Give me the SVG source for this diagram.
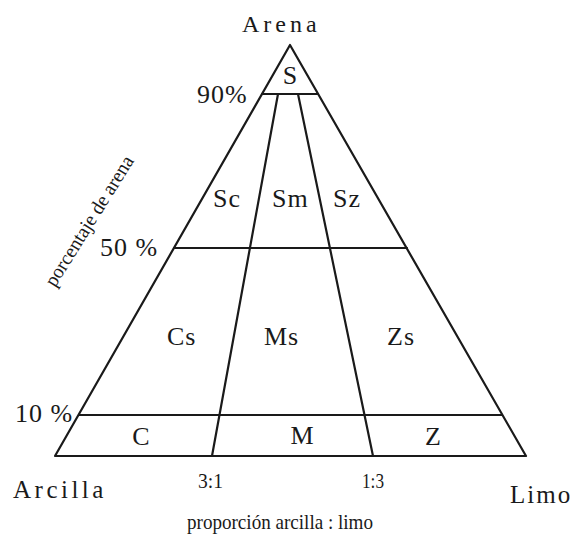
<svg xmlns="http://www.w3.org/2000/svg" width="574" height="535" viewBox="0 0 574 535">
<style>
.ln{stroke:#1a1a1a;stroke-width:2.2;fill:none;stroke-linecap:round;stroke-linejoin:round}
text{font-family:"Liberation Serif","Times New Roman",serif;fill:#1a1a1a}
.big{font-size:26px;letter-spacing:1px}
.sm{font-size:22px}
</style>
<rect width="574" height="535" fill="#ffffff"/>
<g id="lines">
<polygon class="ln" points="290,45 526,456 55,456"/>
<line class="ln" x1="262" y1="94" x2="318" y2="94"/>
<line class="ln" x1="174" y1="248" x2="407" y2="248"/>
<line class="ln" x1="79" y1="415" x2="502" y2="415"/>
<line class="ln" x1="212" y1="456" x2="278" y2="94"/>
<line class="ln" x1="373" y1="456" x2="298" y2="94"/>
</g>
<g id="vertices">
<text x="242" y="32" style="font-size:24px;letter-spacing:4px">Arena</text>
<text x="13" y="498" style="font-size:25px;letter-spacing:3.5px">Arcilla</text>
<text x="510" y="503" style="font-size:25px;letter-spacing:2px">Limo</text>
</g>
<g id="percentages">
<text class="big" x="197" y="103">90%</text>
<text class="big" x="100" y="256">50 %</text>
<text class="big" x="15" y="422">10 %</text>
</g>
<g id="regions">
<text class="big" x="290" y="84" text-anchor="middle" style="letter-spacing:0">S</text>
<text class="big" x="213" y="207">Sc</text>
<text class="big" x="272" y="207">Sm</text>
<text class="big" x="333" y="207">Sz</text>
<text class="big" x="167" y="345">Cs</text>
<text class="big" x="264" y="345">Ms</text>
<text class="big" x="387" y="345">Zs</text>
<text class="big" x="141" y="445" text-anchor="middle" style="letter-spacing:0">C</text>
<text class="big" x="302" y="444" text-anchor="middle" style="letter-spacing:0">M</text>
<text class="big" x="433" y="445" text-anchor="middle" style="letter-spacing:0">Z</text>
</g>
<g id="axis-labels">
<text class="sm" x="198" y="488" textLength="25" lengthAdjust="spacingAndGlyphs">3:1</text>
<text class="sm" x="362" y="488" textLength="22" lengthAdjust="spacingAndGlyphs">1:3</text>
<text class="sm" x="187" y="529" textLength="186" lengthAdjust="spacingAndGlyphs">proporción arcilla : limo</text>
<text transform="translate(55,288) rotate(-58)" style="font-size:20px" textLength="150" lengthAdjust="spacingAndGlyphs">porcentaje de arena</text>
</g>
</svg>
